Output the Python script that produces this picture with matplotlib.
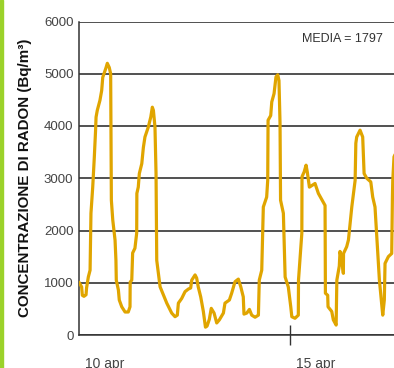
import matplotlib.pyplot as plt
from matplotlib.transforms import blended_transform_factory

# Radon readings, hours counted from 10 apr 00:00
hours = [0, 1.5, 1.9, 2.8, 4.0, 4.3, 5.3, 6.3, 6.5, 6.8, 7.8, 8.7, 9.4, 9.7, 10.4,
         11.9, 12.9, 13.5, 14.2, 15.4, 16.1, 17.2, 18.0, 18.2, 18.4, 19.2, 20.5,
         21.0, 21.2, 22.4, 22.9, 24.3, 26.2, 28.0, 29.0, 29.1, 30.0, 30.5, 31.8,
         32.8, 32.9, 33.7, 34.3, 35.7, 36.6, 37.5, 39.4, 40.8, 41.7, 42.3, 43.2,
         43.8, 44.2, 46.1, 49.9, 52.7, 54.6, 55.9, 56.5, 58.4, 60.3, 62.2, 63.5,
         64.1, 66.0, 66.9, 67.8, 69.2, 70.7, 71.9, 72.8, 74.1, 75.2, 76.8, 78.3,
         79.8, 82.1, 83.0, 85.5, 86.8, 88.7, 90.6, 92.0, 93.4, 93.8, 95.4, 96.9,
         98.2, 100.1, 102.0, 102.5, 103.9, 104.8, 106.7, 107.3, 107.5, 109.0,
         109.6, 110.9, 112.0, 113.0, 113.7, 114.3, 114.5, 114.6, 116.2, 117.2,
         119.0, 120.4, 121.0, 122.8, 124.7, 124.8, 126.7, 126.8, 128.0, 129.1,
         129.8, 131.0, 134.2, 136.1, 139.9, 140.1, 141.4, 141.6, 143.7, 144.6,
         146.2, 146.6, 148.0, 148.4, 150.0, 150.3, 150.4, 152.2, 153.2, 155.1,
         157.0, 157.4, 157.9, 159.8, 161.3, 162.1, 163.6, 165.9, 167.0, 168.3,
         170.8, 172.7, 173.6, 174.0, 175.9, 177.8, 178.2, 178.4, 179.1, 180.3]
radon = [1010, 920, 760, 740, 770, 900, 1110, 1240, 1700, 2330, 2830, 3400, 3900, 4170, 4300,
         4490, 4680, 4930, 5000, 5120, 5200, 5120, 5000, 3860, 2580, 2200, 1815,
         1430, 1050, 860, 670, 540, 440, 440, 540, 1013, 1050, 1570, 1660,
         1950, 2710, 2830, 3090, 3280, 3590, 3790, 3980, 4170, 4360, 4300, 3980,
         3090, 1430, 923, 610, 420, 350, 380, 610, 700, 830, 880, 900,
         1050, 1150, 1090, 920, 730, 450, 150, 170, 300, 510, 420, 230,
         290, 420, 610, 670, 800, 1020, 1070, 920, 730, 400, 420, 490,
         380, 340, 380, 1050, 1240, 2450, 2640, 2960, 4110, 4200,
         4460, 4620, 4940, 4980, 4870, 4050, 2960, 2580, 2330, 1110,
         920, 540, 350, 320, 380, 1050, 1950, 3030, 3120, 3250,
         3120, 2830, 2900, 2710, 2480, 800, 760, 540, 450, 290,
         190, 1050, 1320, 1600, 1280, 1180, 1560, 1690, 1820, 2450,
         2960, 3670, 3790, 3920, 3790, 3090, 3000, 2930, 2640, 2450,
         1050, 380, 670, 1370, 1500, 1560, 2640, 2960, 3410, 3500]

day_ticks = [0, 120]
day_labels = ['10 apr', '15 apr']
y_ticks = [0, 1000, 2000, 3000, 4000, 5000, 6000]

plt.rcParams['font.family'] = ['Liberation Sans', 'DejaVu Sans']

fig = plt.figure(figsize=(3.94, 3.68), dpi=100)
ax = fig.add_axes([79 / 394, 1 - 335 / 368, 1 - 79 / 394, (335 - 21.5) / 368])

ax.plot(hours, radon, color='#E0A500', linewidth=2.3,
        solid_joinstyle='round', solid_capstyle='round', zorder=3)

ax.set_xlim(0, 179.1)
ax.set_ylim(0, 6000)
ax.set_yticks(y_ticks)
ax.set_yticklabels([str(v) for v in y_ticks], color='#444444', fontsize=9.5)
ax.tick_params(axis='y', length=0, pad=4)
# only the 15 apr tick shows, the 10 apr one sits on the spine
ax.set_xticks(day_ticks[1:])
ax.set_xticklabels([])
ax.tick_params(axis='x', direction='inout', length=14, width=1, color='#333333')

ax.grid(axis='y', color='#222222', linewidth=1.1)
ax.set_axisbelow(True)
for side in ['top', 'right']:
    ax.spines[side].set_visible(False)
for side in ['left', 'bottom']:
    ax.spines[side].set_color('#333333')
    ax.spines[side].set_linewidth(1.1)

# day labels sit a bit right of their ticks
trans = blended_transform_factory(ax.transData, fig.transFigure)
for t, lab in zip(day_ticks, day_labels):
    fig.text(t + 3.5, 1 - 357 / 368, lab, transform=trans, ha='left', va='top',
             fontsize=10, color='#444444')

ax.text(0.965, 0.945, 'MEDIA = 1797', transform=ax.transAxes, ha='right', va='center',
        fontsize=9, color='#333333')

fig.text(25 / 394, 1 - 178 / 368, 'CONCENTRAZIONE DI RADON (Bq/m\u00b3)', rotation=90,
         ha='center', va='center', fontsize=10.9, fontweight='bold', color='#111111')

# green strip on the left edge
fig.patches.append(plt.Rectangle((0, 0), 3 / 394, 1, transform=fig.transFigure,
                                 color='#9BD22A', zorder=0))

plt.savefig('out.png', dpi=100)
